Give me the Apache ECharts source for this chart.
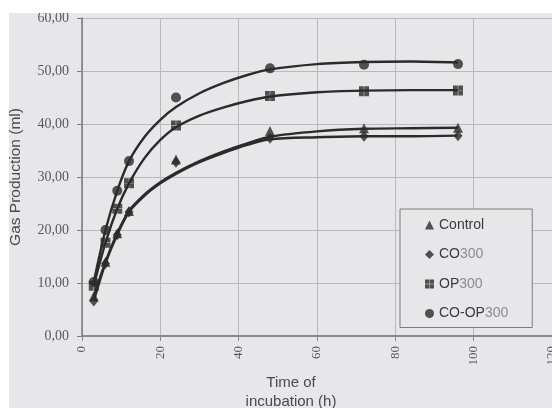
<!DOCTYPE html>
<html>
<head>
<meta charset="utf-8">
<script src="https://cdn.jsdelivr.net/npm/echarts@6/dist/echarts.min.js"></script>
<style>
  html, body { margin: 0; padding: 0; background: #ffffff; }
  #wrap { position: relative; width: 552px; height: 408px; background: #ffffff; overflow: hidden; }
  #chart { position: absolute; left: 9px; top: 13px; width: 543px; height: 395px; background: #e7e7e9; }
</style>
</head>
<body>
<div id="wrap"><div id="chart"></div></div>
<script>
// Measured gas production (ml) at each incubation time (h)
const hours = [3, 6, 9, 12, 24, 48, 72, 96];
const control = [7.5, 14.0, 19.4, 23.6, 33.3, 38.7, 39.2, 39.3];
const co300 = [6.6, 13.7, 19.1, 23.4, 32.8, 37.3, 37.7, 37.8];
const op300 = [9.5, 17.6, 24.0, 28.8, 39.7, 45.3, 46.2, 46.3];
const coop300 = [10.2, 20.0, 27.4, 33.0, 45.0, 50.5, 51.2, 51.3];

// Fitted gas production curves
const fitHours = [3, 6, 9, 12, 16, 20, 24, 30, 36, 42, 48, 60, 72, 84, 96];
const controlFit = [7.5, 14.0, 19.4, 23.6, 26.7, 29.0, 30.8, 33.0, 34.8, 36.3, 37.6, 38.6, 39.1, 39.2, 39.3];
const co300Fit = [6.6, 13.7, 19.1, 23.4, 26.5, 28.8, 30.6, 32.8, 34.5, 36.0, 37.1, 37.5, 37.7, 37.7, 37.8];
const op300Fit = [9.5, 17.6, 24.0, 28.8, 33.6, 37.0, 39.4, 41.6, 43.1, 44.3, 45.2, 46.0, 46.3, 46.4, 46.4];
const coop300Fit = [10.2, 20.0, 27.4, 33.0, 37.6, 40.8, 43.2, 45.8, 47.7, 49.2, 50.3, 51.3, 51.7, 51.8, 51.6];

// Axis tick labels
const xTickLabels = ['0', '20', '40', '60', '80', '100', '120'];
const yTickLabels = ['0,00', '10,00', '20,00', '30,00', '40,00', '50,00', '60,00'];

const seriesNames = ['Control', 'CO300', 'OP300', 'CO-OP300'];

const ink = '#2b2b2b';
const quad = 'path://M0,0H4.3V4.3H0Z M4.7,0H9V4.3H4.7Z M0,4.7H4.3V9H0Z M4.7,4.7H9V9H4.7Z';

function pairs(xs, ys) { return xs.map((x, i) => [x, ys[i]]); }

function fitLine(name, ys) {
  return {
    name: name, type: 'line', data: pairs(fitHours, ys),
    smooth: 0.3, showSymbol: false, silent: true,
    lineStyle: { color: ink, width: 2.4 }, z: 2
  };
}
function marks(name, ys, symbol, size) {
  return {
    name: name, type: 'scatter', data: pairs(hours, ys),
    symbol: symbol, symbolSize: size,
    itemStyle: { color: ink }, z: 3
  };
}

const chart = echarts.init(document.getElementById('chart'), null, { renderer: 'canvas' });
chart.setOption({
  backgroundColor: 'transparent',
  animation: false,
  grid: { left: 73, top: 5, right: 0, bottom: 72, containLabel: false, outerBoundsMode: 'none' },
  xAxis: {
    type: 'value', min: 0, max: 120, interval: 20,
    name: 'Time of\nincubation (h)', nameLocation: 'middle', nameGap: 37.5,
    nameTextStyle: { fontFamily: 'Liberation Sans', fontSize: 15, color: '#4a4a4a', lineHeight: 19, padding: [0, 52, 0, 0] },
    axisLine: { show: true, onZero: false, lineStyle: { color: '#8a8a8a', width: 2 } },
    axisTick: { show: true, length: 5, lineStyle: { color: '#8a8a8a' } },
    axisLabel: {
      rotate: 90, margin: 10, fontFamily: 'Liberation Serif', fontSize: 13, color: '#5a5a5a',
      formatter: v => xTickLabels[Math.round(v / 20)]
    },
    splitLine: { show: true, lineStyle: { color: '#b9b9bb', width: 1 } }
  },
  yAxis: {
    type: 'value', min: 0, max: 60, interval: 10,
    name: 'Gas Production (ml)', nameLocation: 'middle', nameGap: 58,
    nameTextStyle: { fontFamily: 'Liberation Sans', fontSize: 15.5, color: '#4a4a4a' },
    axisLine: { show: true, lineStyle: { color: '#7a7a7a', width: 1.5 } },
    axisTick: { show: true, length: 5, lineStyle: { color: '#7a7a7a' } },
    axisLabel: {
      margin: 13, fontFamily: 'Liberation Serif', fontSize: 14, color: '#5a5a5a',
      formatter: v => yTickLabels[Math.round(v / 10)]
    },
    splitLine: { show: true, lineStyle: { color: '#b9b9bb', width: 1 } }
  },
  legend: {
    data: seriesNames, orient: 'vertical', left: 391, top: 196,
    padding: [8, 24, 6, 25], itemGap: 13.5, itemWidth: 9, itemHeight: 9,
    backgroundColor: '#e7e7e9', borderColor: '#7d7d7d', borderWidth: 1,
    formatter: name => {
      const m = name.match(/^(.*?)(\d+)$/);
      return m ? '{d|' + m[1] + '}{n|' + m[2] + '}' : '{d|' + name + '}';
    },
    textStyle: {
      fontFamily: 'Liberation Sans', fontSize: 14, lineHeight: 16,
      rich: {
        d: { fontFamily: 'Liberation Sans', fontSize: 14, color: '#3a3a3a' },
        n: { fontFamily: 'Liberation Sans', fontSize: 14, color: '#8c8c8c' }
      }
    }
  },
  series: [
    fitLine('Control curve', controlFit),
    fitLine('CO300 curve', co300Fit),
    fitLine('OP300 curve', op300Fit),
    fitLine('CO-OP300 curve', coop300Fit),
    marks('Control', control, 'triangle', 10),
    marks('CO300', co300, 'diamond', [9, 11]),
    marks('OP300', op300, quad, 10),
    marks('CO-OP300', coop300, 'circle', 10)
  ]
});
</script>
</body>
</html>
